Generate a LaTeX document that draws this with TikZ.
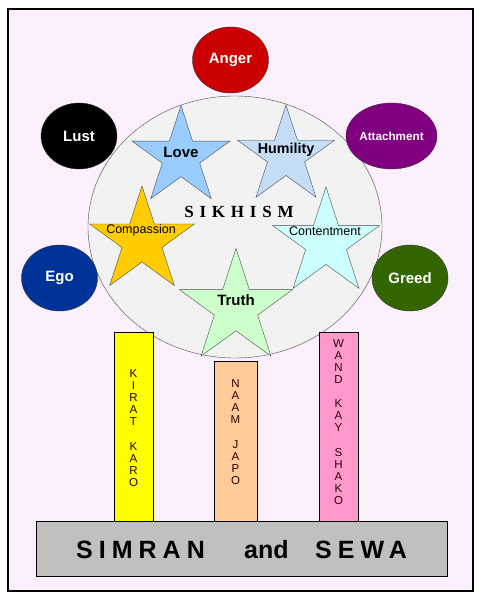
\documentclass[tikz,border=0pt]{standalone}
\usepackage{fontspec}
\setmainfont{Liberation Sans}
\newfontfamily\sikhfont[LetterSpace=34]{Liberation Serif}
\newfontfamily\basefont[LetterSpace=24]{Liberation Sans}
\usetikzlibrary{shapes.geometric}

\definecolor{pagepink}{HTML}{FCF0FC}
\definecolor{circlegray}{HTML}{F2F2F2}
\definecolor{angercol}{HTML}{CC0000}
\definecolor{attachcol}{HTML}{800080}
\definecolor{egocol}{HTML}{003399}
\definecolor{greedcol}{HTML}{336600}
\definecolor{lovecol}{HTML}{99CCFF}
\definecolor{humilitycol}{HTML}{C6DDF7}
\definecolor{compassioncol}{HTML}{FFCC00}
\definecolor{contentcol}{HTML}{CCFFFF}
\definecolor{truthcol}{HTML}{CCFFCC}
\definecolor{kiratcol}{HTML}{FFFF00}
\definecolor{naamcol}{HTML}{FFCC99}
\definecolor{wandcol}{HTML}{FF99CC}
\definecolor{basegray}{HTML}{C0C0C0}
\definecolor{darkmaroon}{HTML}{300000}

\begin{document}
\begin{tikzpicture}[x=1pt,y=-1pt]
            \tikzstyle{vice node}=[ellipse,draw=black!80,minimum width=76,minimum height=66,inner sep=0,text=white,font=\bfseries\fontsize{15}{18}\selectfont];
            \tikzstyle{virtue star}=[star,star points=5,star point ratio=2.618,draw=black!70,inner sep=0];
            \tikzstyle{virtue text}=[font=\bfseries\fontsize{15}{18}\selectfont];
            \tikzstyle{small virtue text}=[font=\fontsize{12.5}{15}\selectfont];
            \tikzstyle{pillar}=[draw,anchor=north,minimum width=39,inner sep=0];
            \tikzstyle{pillar text}=[align=center,text=darkmaroon,inner sep=0,font=\fontsize{11.5}{12.1}\selectfont];
            \useasboundingbox (0,0) rectangle (482,599);
            \draw[line width=1.3,fill=pagepink] (8,9) rectangle (473,591);
            \node[ellipse,draw=black!70,fill=circlegray,minimum width=294,minimum height=262,inner sep=0] (sikhism) at (235,227) {};
            \node[font=\sikhfont\bfseries\fontsize{17}{20}\selectfont] (sikhtext) at (239,212) {SIKHISM};
            \node[virtue star,fill=lovecol,minimum size=103] (love) at (181,157) {};
            \node[virtue star,fill=humilitycol,minimum size=102] (humility) at (286,156) {};
            \node[virtue star,fill=compassioncol,minimum size=110] (compassion) at (142,241) {};
            \node[virtue star,fill=contentcol,minimum size=112] (contentment) at (326,243) {};
            \node[virtue star,fill=truthcol,minimum size=119] (truth) at (236,308) {};
            \node[virtue text] (lovetext) at (181,152) {Love};
            \node[virtue text,font=\bfseries\fontsize{14.3}{17}\selectfont] (humilitytext) at (286,150) {Humility};
            \node[small virtue text] (compassiontext) at (141,230) {Compassion};
            \node[small virtue text] (contenttext) at (325,231) {Contentment};
            \node[virtue text] (truthtext) at (236,300) {Truth};
            \node[vice node,fill=angercol] (anger) at (230.5,60) {Anger};
            \node[vice node,fill=black] (lust) at (79,136) {Lust};
            \node[vice node,fill=attachcol,font=\bfseries\fontsize{11.7}{14}\selectfont] (attachment) at (391.5,136) {Attachment};
            \node[vice node,fill=egocol] (ego) at (59.5,278) {Ego};
            \node[vice node,fill=greedcol] (greed) at (410,278) {Greed};
            \node[pillar,fill=kiratcol,minimum height=189] (kirat) at (133.5,332) {};
            \node[pillar,fill=naamcol,minimum width=43,minimum height=160] (naam) at (235.5,361) {};
            \node[pillar,fill=wandcol,minimum height=189] (wand) at (338.5,332) {};
            \node[pillar text] (kirattext) at (133.5,428) {K\\I\\R\\A\\T\\[12.1pt]K\\A\\R\\O};
            \node[pillar text] (naamtext) at (235.5,432) {N\\A\\A\\M\\[12.1pt]J\\A\\P\\O};
            \node[pillar text] (wandtext) at (338.5,422) {W\\A\\N\\D\\[12.1pt]K\\A\\Y\\[12.1pt]S\\H\\A\\K\\O};
            \node[draw,fill=basegray,minimum width=411,minimum height=55,inner sep=0,anchor=north west] (base) at (36,521) {};
            \node[anchor=base west,inner sep=0,font=\basefont\bfseries\fontsize{25}{30}\selectfont] (simran) at (76,558) {SIMRAN};
            \node[anchor=base west,inner sep=0,font=\bfseries\fontsize{25}{30}\selectfont] (and) at (244,558) {and};
            \node[anchor=base west,inner sep=0,font=\basefont\bfseries\fontsize{25}{30}\selectfont] (sewa) at (315,558) {SEWA};
\end{tikzpicture}
\end{document}
